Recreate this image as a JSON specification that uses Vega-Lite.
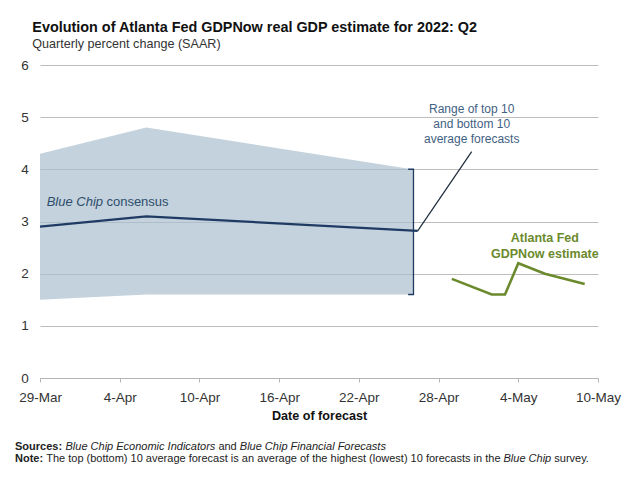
{
  "$schema": "https://vega.github.io/schema/vega-lite/v6.json",
  "width": 558,
  "height": 313,
  "autosize": "none",
  "padding": {"left": 40, "top": 65, "right": 32, "bottom": 105},
  "background": "white",
  "config": {"font": "Liberation Sans", "view": {"stroke": null}},
  "title": {
    "text": "Evolution of Atlanta Fed GDPNow real GDP estimate for 2022: Q2",
    "subtitle": "Quarterly percent change (SAAR)",
    "anchor": "start",
    "frame": "group",
    "dx": -7.7,
    "offset": 6,
    "font": "Liberation Sans",
    "fontSize": 14.4,
    "fontWeight": "bold",
    "color": "#111111",
    "subtitleFont": "Liberation Sans",
    "subtitleFontSize": 12.6,
    "subtitleColor": "#333333",
    "subtitlePadding": 3
  },
  "datasets": {
    "area": [
      {"date": "2022-03-29", "v": 4.3, "lo": 1.5},
      {"date": "2022-04-06", "v": 4.8, "lo": 1.6},
      {"date": "2022-04-26", "v": 4.0, "lo": 1.6}
    ],
    "consensus": [
      {"date": "2022-03-29", "v": 2.9},
      {"date": "2022-04-06", "v": 3.1},
      {"date": "2022-04-26T10:20:00Z", "v": 2.82}
    ],
    "connector": [
      {"date": "2022-04-26T10:20:00Z", "v": 2.82},
      {"date": "2022-04-30T11:50:00Z", "v": 4.34}
    ],
    "bracket": [
      {"date": "2022-04-25T17:00:00Z", "v": 4.0, "o": 1},
      {"date": "2022-04-26T02:30:00Z", "v": 4.0, "o": 2},
      {"date": "2022-04-26T02:30:00Z", "v": 1.6, "o": 3},
      {"date": "2022-04-25T17:00:00Z", "v": 1.6, "o": 4}
    ],
    "gdpnow": [
      {"date": "2022-04-29", "v": 1.9},
      {"date": "2022-05-02", "v": 1.6},
      {"date": "2022-05-03", "v": 1.6},
      {"date": "2022-05-04", "v": 2.2},
      {"date": "2022-05-06", "v": 2.0},
      {"date": "2022-05-09", "v": 1.8}
    ],
    "lblItalic": [{"date": "2022-03-29T12:06:00Z", "v": 3.303, "t": "Blue Chip"}],
    "lblNormal": [{"date": "2022-04-03T00:00:00Z", "v": 3.303, "t": "consensus"}],
    "range": [
      {"date": "2022-04-30T11:50:00Z", "v": 5.074, "t": "Range of top 10"},
      {"date": "2022-04-30T11:50:00Z", "v": 4.787, "t": "and bottom 10"},
      {"date": "2022-04-30T11:50:00Z", "v": 4.499, "t": "average forecasts"}
    ],
    "gdpLbl": [
      {"date": "2022-05-06", "v": 2.613, "t": "Atlanta Fed"},
      {"date": "2022-05-06", "v": 2.295, "t": "GDPNow estimate"}
    ],
    "footBold": [
      {"date": "2022-03-27T02:50:00Z", "v": -1.38, "t": "Sources:"},
      {"date": "2022-03-27T02:50:00Z", "v": -1.61, "t": "Note:"}
    ],
    "footItalic": [
      {"date": "2022-03-30T22:04:00Z", "v": -1.38, "t": "Blue Chip Economic Indicators"},
      {"date": "2022-04-13T00:56:00Z", "v": -1.38, "t": "Blue Chip Financial Forecasts"},
      {"date": "2022-05-02T21:17:00Z", "v": -1.61, "t": "Blue Chip"}
    ],
    "footReg": [
      {"date": "2022-04-11T10:15:00Z", "v": -1.38, "t": "and"},
      {"date": "2022-03-29T11:12:00Z", "v": -1.61, "t": "The top (bottom) 10 average forecast is an average of the highest (lowest) 10 forecasts in the"},
      {"date": "2022-05-06T17:02:00Z", "v": -1.61, "t": "survey."}
    ]
  },
  "encoding": {
    "x": {
      "field": "date", "type": "temporal",
      "scale": {"type": "utc", "domain": [{"year": 2022, "month": 3, "date": 29, "utc": true}, {"year": 2022, "month": 5, "date": 10, "utc": true}]},
      "axis": {
        "title": "Date of forecast",
        "titleFont": "Liberation Sans", "titleFontSize": 12.6, "titleFontWeight": "bold", "titleColor": "#111111", "titlePadding": 6,
        "values": [
          {"year": 2022, "month": 3, "date": 29, "utc": true},
          {"year": 2022, "month": 4, "date": 4, "utc": true},
          {"year": 2022, "month": 4, "date": 10, "utc": true},
          {"year": 2022, "month": 4, "date": 16, "utc": true},
          {"year": 2022, "month": 4, "date": 22, "utc": true},
          {"year": 2022, "month": 4, "date": 28, "utc": true},
          {"year": 2022, "month": 5, "date": 4, "utc": true},
          {"year": 2022, "month": 5, "date": 10, "utc": true}
        ],
        "format": "%-d-%b",
        "labelFont": "Liberation Sans", "labelFontSize": 13.5, "labelColor": "#333333", "labelPadding": 8,
        "labelFlush": false, "labelOverlap": false,
        "grid": false,
        "domainColor": "#b5b5b5", "tickColor": "#b5b5b5", "tickSize": 4, "zindex": 1
      }
    },
    "y": {
      "field": "v", "type": "quantitative",
      "scale": {"domain": [0, 6], "nice": false, "zero": false},
      "axis": {
        "title": null, "values": [0, 1, 2, 3, 4, 5, 6], "domain": false, "ticks": false,
        "grid": true, "gridColor": "#bdbdbd", "gridWidth": 1,
        "labelFont": "Liberation Sans", "labelFontSize": 13.5, "labelColor": "#333333", "labelPadding": 11.7
      }
    }
  },
  "layer": [
    {
      "data": {"name": "area"},
      "mark": {"type": "area", "color": "#a9bfcd", "opacity": 0.7},
      "encoding": {"y2": {"field": "lo"}}
    },
    {
      "data": {"name": "consensus"},
      "mark": {"type": "line", "color": "#1f3b63", "strokeWidth": 2.2}
    },
    {
      "data": {"name": "connector"},
      "mark": {"type": "line", "color": "#1c2a3a", "strokeWidth": 1.2}
    },
    {
      "data": {"name": "bracket"},
      "mark": {"type": "line", "color": "#1f3b63", "strokeWidth": 1.5},
      "encoding": {"order": {"field": "o", "type": "quantitative"}}
    },
    {
      "data": {"name": "gdpnow"},
      "mark": {"type": "line", "color": "#6b8a2d", "strokeWidth": 2.6}
    },
    {
      "data": {"name": "lblItalic"},
      "mark": {"type": "text", "align": "left", "baseline": "alphabetic", "font": "Liberation Sans", "fontSize": 13, "fontStyle": "italic", "color": "#2f4d6d"},
      "encoding": {"text": {"field": "t"}}
    },
    {
      "data": {"name": "lblNormal"},
      "mark": {"type": "text", "align": "left", "baseline": "alphabetic", "font": "Liberation Sans", "fontSize": 13, "color": "#2f4d6d"},
      "encoding": {"text": {"field": "t"}}
    },
    {
      "data": {"name": "range"},
      "mark": {"type": "text", "align": "center", "baseline": "alphabetic", "font": "Liberation Sans", "fontSize": 12, "color": "#3f6183"},
      "encoding": {"text": {"field": "t"}}
    },
    {
      "data": {"name": "gdpLbl"},
      "mark": {"type": "text", "align": "center", "baseline": "alphabetic", "font": "Liberation Sans", "fontSize": 12.5, "fontWeight": "bold", "color": "#6b8a2d"},
      "encoding": {"text": {"field": "t"}}
    },
    {
      "data": {"name": "footBold"},
      "mark": {"type": "text", "align": "left", "baseline": "alphabetic", "font": "Liberation Sans", "fontSize": 11, "fontWeight": "bold", "color": "#222222"},
      "encoding": {"text": {"field": "t"}}
    },
    {
      "data": {"name": "footItalic"},
      "mark": {"type": "text", "align": "left", "baseline": "alphabetic", "font": "Liberation Sans", "fontSize": 11, "fontStyle": "italic", "color": "#222222"},
      "encoding": {"text": {"field": "t"}}
    },
    {
      "data": {"name": "footReg"},
      "mark": {"type": "text", "align": "left", "baseline": "alphabetic", "font": "Liberation Sans", "fontSize": 11, "color": "#222222"},
      "encoding": {"text": {"field": "t"}}
    }
  ]
}
